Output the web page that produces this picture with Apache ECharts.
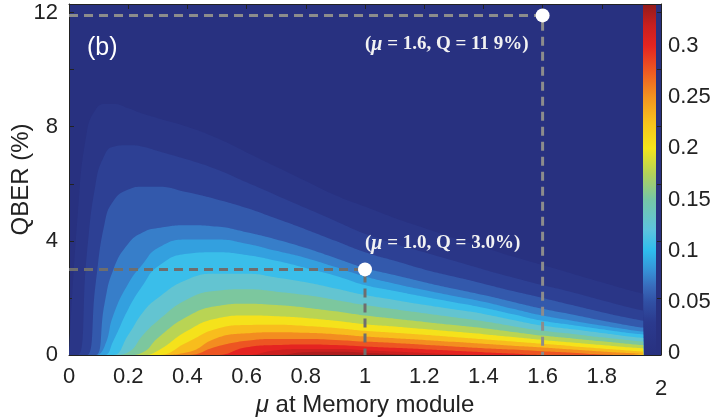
<!DOCTYPE html>
<html>
<head>
<meta charset="utf-8">
<script src="https://cdn.jsdelivr.net/npm/echarts/dist/echarts.min.js"></script>
<style>
html,body{margin:0;padding:0;background:#fff}
#main{width:719px;height:419px}
</style>
</head>
<body>
<div id="main"></div>
<script>
// mu grid (x) and QBER (%) at which the key rate crosses each contour level
var muGrid   = [0, 0.03, 0.06, 0.09, 0.12, 0.15, 0.2, 0.25, 0.3, 0.4, 0.5, 0.6, 0.7, 0.8, 0.9, 1.0, 1.1, 1.2, 1.3, 1.4, 1.5, 1.6, 1.7, 1.8, 1.9, 1.94];
var levels   = [0.005, 0.025, 0.045, 0.065, 0.08, 0.095, 0.115, 0.14, 0.165, 0.19, 0.215, 0.24, 0.265, 0.29, 0.31, 0.325];
var q005 = [0, 5.0, 7.8, 8.6, 8.8, 8.8, 8.65, 8.45, 8.3, 8.0, 7.6, 7.1, 6.6, 6.1, 5.6, 5.2, 4.8, 4.45, 4.1, 3.78, 3.45, 3.15, 2.85, 2.55, 2.25, 2.15];
var q025 = [0, 0, 3.5, 6.0, 7.0, 7.3, 7.35, 7.3, 7.15, 6.85, 6.5, 6.05, 5.6, 5.15, 4.7, 4.25, 3.9, 3.6, 3.3, 3.0, 2.72, 2.45, 2.2, 1.92, 1.65, 1.56];
var q045 = [0, 0, 0, 2.5, 4.6, 5.4, 5.8, 5.9, 5.9, 5.7, 5.45, 5.15, 4.78, 4.4, 4.0, 3.6, 3.3, 3.0, 2.75, 2.5, 2.24, 2.0, 1.75, 1.5, 1.28, 1.2];
var q065 = [0, 0, 0, 0, 1.8, 3.0, 3.9, 4.3, 4.45, 4.55, 4.5, 4.3, 4.05, 3.75, 3.4, 3.05, 2.8, 2.55, 2.32, 2.1, 1.86, 1.62, 1.42, 1.21, 1.02, 0.96];
var q080 = [0, 0, 0, 0, 0.3, 1.4, 2.5, 3.2, 3.75, 4.05, 4.05, 3.9, 3.65, 3.4, 3.08, 2.75, 2.5, 2.28, 2.07, 1.87, 1.62, 1.38, 1.2, 1.03, 0.87, 0.82];
var q095 = [0, 0, 0, 0, 0, 0.5, 1.6, 2.45, 3.1, 3.55, 3.6, 3.5, 3.3, 3.05, 2.78, 2.45, 2.24, 2.04, 1.85, 1.66, 1.43, 1.2, 1.05, 0.9, 0.76, 0.72];
var q115 = [0, 0, 0, 0, 0, 0, 0.7, 1.5, 2.0, 2.65, 2.85, 2.85, 2.72, 2.55, 2.33, 2.1, 1.93, 1.76, 1.6, 1.44, 1.23, 1.03, 0.9, 0.77, 0.64, 0.6];
var q140 = [0, 0, 0, 0, 0, 0, 0.1, 0.7, 1.2, 1.95, 2.25, 2.3, 2.22, 2.1, 1.93, 1.75, 1.6, 1.46, 1.32, 1.18, 1.01, 0.85, 0.74, 0.62, 0.51, 0.47];
var q165 = [0, 0, 0, 0, 0, 0, 0, 0.1, 0.6, 1.35, 1.72, 1.8, 1.75, 1.66, 1.53, 1.38, 1.27, 1.16, 1.05, 0.94, 0.81, 0.68, 0.58, 0.48, 0.38, 0.35];
var q190 = [0, 0, 0, 0, 0, 0, 0, 0, 0.15, 0.85, 1.28, 1.38, 1.36, 1.3, 1.2, 1.08, 1.0, 0.91, 0.82, 0.73, 0.63, 0.53, 0.44, 0.35, 0.26, 0.23];
var q215 = [0, 0, 0, 0, 0, 0, 0, 0, 0, 0.45, 0.92, 1.05, 1.06, 1.02, 0.95, 0.85, 0.78, 0.71, 0.63, 0.55, 0.47, 0.39, 0.31, 0.23, 0.15, 0.12];
var q240 = [0, 0, 0, 0, 0, 0, 0, 0, 0, 0.1, 0.6, 0.76, 0.8, 0.78, 0.73, 0.65, 0.59, 0.53, 0.46, 0.39, 0.32, 0.26, 0.19, 0.12, 0.06, 0.04];
var q265 = [0, 0, 0, 0, 0, 0, 0, 0, 0, 0, 0.3, 0.5, 0.56, 0.56, 0.53, 0.47, 0.42, 0.36, 0.3, 0.24, 0.19, 0.13, 0.08, 0.02, 0, 0];
var q290 = [0, 0, 0, 0, 0, 0, 0, 0, 0, 0, 0, 0.27, 0.35, 0.37, 0.35, 0.3, 0.25, 0.2, 0.15, 0.1, 0.05, 0, 0, 0, 0, 0];
var q310 = [0, 0, 0, 0, 0, 0, 0, 0, 0, 0, 0, 0, 0.17, 0.21, 0.21, 0.17, 0.12, 0.07, 0.02, 0, 0, 0, 0, 0, 0, 0];
var q325 = [0, 0, 0, 0, 0, 0, 0, 0, 0, 0, 0, 0, 0, 0.1, 0.11, 0.08, 0.03, 0, 0, 0, 0, 0, 0, 0, 0, 0];
var contours = [q005, q025, q045, q065, q080, q095, q115, q140, q165, q190, q215, q240, q265, q290, q310, q325];

// marked operating points
var markPts = [[1.0, 3.0], [1.6, 11.9]];
var markText = ['(μ = 1.0, Q = 3.0%)', '(μ = 1.6, Q = 11 9%)'];

var cbarTicks = [0, 0.05, 0.1, 0.15, 0.2, 0.25, 0.3];

// jet-like colour map
var cmapStops = [[0, '#283180'], [0.03, '#2b3a8e'], [0.05, '#3150a4'], [0.065, '#386bbc'], [0.08, '#3690d6'],
    [0.1, '#2ebcee'], [0.12, '#5cc3df'], [0.15, '#76c6a6'], [0.175, '#b2d25a'], [0.2, '#f5e51b'],
    [0.225, '#f8c21d'], [0.25, '#f49320'], [0.275, '#ee5a22'], [0.3, '#e52421'], [0.32, '#c81f1f'], [0.34, '#951b1b']];
var cMax = 0.34;

function hexRgb(h) {
    return [parseInt(h.substr(1, 2), 16), parseInt(h.substr(3, 2), 16), parseInt(h.substr(5, 2), 16)];
}
function cmap(v) {
    if (v <= cmapStops[0][0]) return cmapStops[0][1];
    for (var i = 1; i < cmapStops.length; i++) {
        if (v <= cmapStops[i][0]) {
            var a = hexRgb(cmapStops[i - 1][1]), b = hexRgb(cmapStops[i][1]);
            var t = (v - cmapStops[i - 1][0]) / (cmapStops[i][0] - cmapStops[i - 1][0]);
            return 'rgb(' + [0, 1, 2].map(function (k) { return Math.round(a[k] + (b[k] - a[k]) * t); }).join(',') + ')';
        }
    }
    return cmapStops[cmapStops.length - 1][1];
}

var sansFont = 'Liberation Sans';
var series = [];

// filled contour bands, lowest level first so higher ones paint over it
levels.forEach(function (lv, i) {
    var upper = (i < levels.length - 1) ? levels[i + 1] : 0.335;
    series.push({
        type: 'line',
        xAxisIndex: 0,
        yAxisIndex: 0,
        data: muGrid.map(function (m, j) { return [m, contours[i][j]]; }),
        smooth: 0.5,
        symbol: 'none',
        silent: true,
        animation: false,
        lineStyle: { width: 0, opacity: 0 },
        areaStyle: { color: cmap((lv + upper) / 2), opacity: 1, origin: 'start' },
        z: 2
    });
});

// dashed guide lines
var dashColors = ['#6e6e6e', '#8c8c8c'];
markPts.forEach(function (p, i) {
    series.push({
        type: 'line',
        xAxisIndex: 0,
        yAxisIndex: 0,
        data: [[0, p[1]], [p[0], p[1]], [p[0], 0]],
        symbol: 'none',
        silent: true,
        animation: false,
        lineStyle: { color: dashColors[i], width: 3, type: [9, 6] },
        z: 5
    });
});

var labelRich = {
    p: { color: '#f2f2f2', fontFamily: 'Liberation Serif', fontSize: 19, fontWeight: 'bold' },
    m: { color: '#f2f2f2', fontFamily: 'Liberation Serif', fontSize: 20, fontStyle: 'italic', fontWeight: 'bold' }
};
function richText(s) {
    var k = s.indexOf('μ');
    return '{p|' + s.slice(0, k) + '}{m|μ}{p|' + s.slice(k + 1) + '}';
}

series.push({
    type: 'scatter',
    xAxisIndex: 0,
    yAxisIndex: 0,
    symbolSize: 14,
    animation: false,
    itemStyle: { color: '#ffffff', opacity: 1 },
    z: 6,
    data: [
        { value: markPts[0], label: { show: true, position: 'top', align: 'left', distance: 9, formatter: richText(markText[0]), rich: labelRich } },
        { value: markPts[1], label: { show: true, position: 'bottom', align: 'right', distance: 12, offset: [-14, 0], formatter: richText(markText[1]), rich: labelRich } }
    ]
});

var axisDark = '#222';
var option = {
    backgroundColor: '#ffffff',
    animation: false,
    title: {
        text: '(b)',
        left: 82,
        top: 31,
        textStyle: { color: '#ffffff', fontSize: 25, fontWeight: 'normal', fontFamily: sansFont }
    },
    grid: [
        { left: 69, right: 58, top: 4, bottom: 64, show: true, backgroundColor: '#283180', borderWidth: 0, containLabel: false, outerBoundsMode: 'none' },
        {
            left: 643, width: 13, top: 5, bottom: 66, show: true, borderWidth: 0, containLabel: false, outerBoundsMode: 'none',
            backgroundColor: new echarts.graphic.LinearGradient(0, 1, 0, 0, cmapStops.map(function (s) {
                return { offset: s[0] / cMax, color: s[1] };
            }))
        }
    ],
    xAxis: [
        {
            type: 'value', gridIndex: 0, min: 0, max: 2, interval: 0.2, position: 'bottom',
            axisLine: { show: true, onZero: false, lineStyle: { color: axisDark, width: 1 } },
            axisTick: { show: true, inside: true, length: 5, lineStyle: { color: axisDark } },
            splitLine: { show: false },
            axisLabel: {
                margin: 11, color: '#222', fontSize: 22, fontFamily: sansFont,
                formatter: function (v) {
                    return Math.abs(v - 2) < 1e-6 ? '{lo|2}' : String(+v.toFixed(1));
                },
                rich: { lo: { fontSize: 22, fontFamily: sansFont, color: '#222', padding: [12, 0, 0, 0] } }
            },
            name: '{i|μ} at Memory module',
            nameLocation: 'middle',
            nameGap: 38,
            nameMoveOverlap: false,
            nameTextStyle: {
                color: '#222', fontSize: 24, fontFamily: sansFont,
                rich: { i: { fontStyle: 'italic', fontSize: 24, fontFamily: sansFont, color: '#222' } }
            }
        },
        {
            type: 'value', gridIndex: 0, min: 0, max: 2, interval: 0.2, position: 'top',
            axisLine: { show: true, onZero: false, lineStyle: { color: axisDark, width: 1 } },
            axisTick: { show: true, inside: true, length: 5, lineStyle: { color: axisDark } },
            axisLabel: { show: false },
            splitLine: { show: false }
        },
        { type: 'value', gridIndex: 1, min: 0, max: 1, show: false }
    ],
    yAxis: [
        {
            type: 'value', gridIndex: 0, min: 0, max: 12.3, interval: 2,
            axisLine: { show: true, onZero: false, lineStyle: { color: axisDark, width: 1 } },
            axisTick: { show: true, inside: true, length: 5, lineStyle: { color: axisDark } },
            splitLine: { show: false },
            axisLabel: {
                margin: 11, color: '#222', fontSize: 22, fontFamily: sansFont, showMaxLabel: false,
                formatter: function (v) { return (Math.round(v) % 4 === 0 && Math.abs(v - Math.round(v)) < 1e-6) ? String(Math.round(v)) : ''; }
            },
            name: 'QBER (%)',
            nameLocation: 'middle',
            nameGap: 36,
            nameMoveOverlap: false,
            nameTextStyle: { color: '#222', fontSize: 24, fontFamily: sansFont }
        },
        {
            type: 'value', gridIndex: 0, min: 0, max: 12.3, interval: 2, position: 'right',
            axisLine: { show: true, onZero: false, lineStyle: { color: axisDark, width: 1 } },
            axisTick: { show: true, inside: true, length: 4, lineStyle: { color: axisDark } },
            axisLabel: { show: false },
            splitLine: { show: false }
        },
        {
            type: 'value', gridIndex: 1, min: 0, max: cMax, interval: 0.05, position: 'right',
            axisLine: { show: false },
            axisTick: { show: false },
            splitLine: { show: false },
            axisLabel: {
                margin: 12, color: '#222', fontSize: 22, fontFamily: sansFont, showMaxLabel: false,
                formatter: function (v) { return cbarTicks.indexOf(+v.toFixed(2)) >= 0 ? String(+v.toFixed(2)) : ''; }
            }
        }
    ],
    series: series
};

var chart = echarts.init(document.getElementById('main'), null, { renderer: 'canvas' });
chart.setOption(option);
</script>
</body>
</html>
